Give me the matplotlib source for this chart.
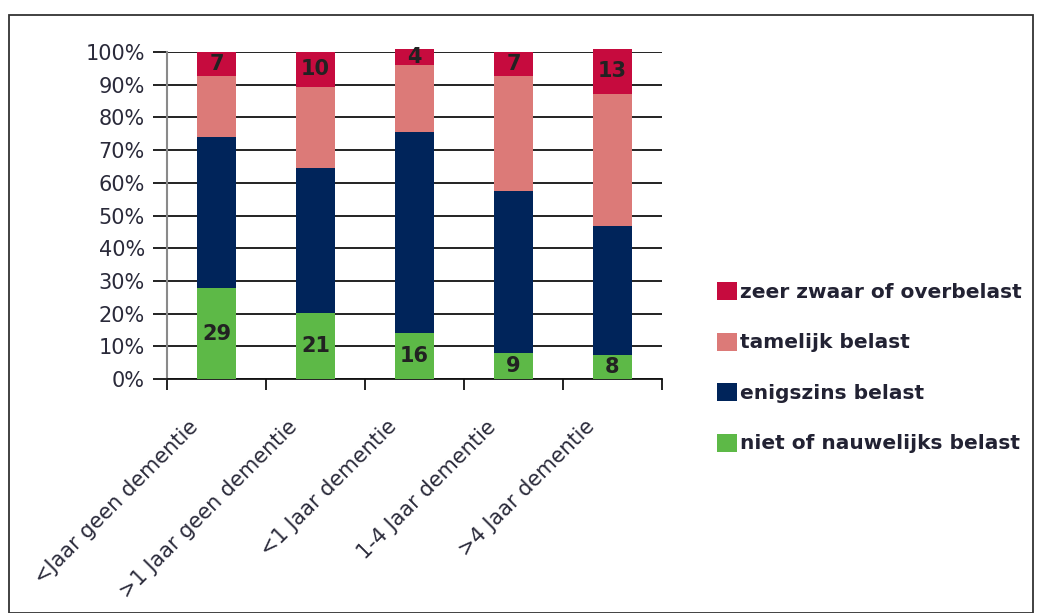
import matplotlib
matplotlib.use("Agg")
import matplotlib.pyplot as plt
import matplotlib.transforms as mtransforms
from matplotlib.patches import Rectangle, Patch
import numpy as np

# ---- data ----
categories = ["<Jaar geen dementie", ">1 Jaar geen dementie", "<1 Jaar dementie",
              "1-4 Jaar dementie", ">4 Jaar dementie"]
niet = [27.7, 20.1, 14.0, 7.9, 7.3]
enigszins = [46.3, 44.5, 61.6, 49.6, 39.4]
tamelijk = [18.6, 24.8, 20.4, 35.1, 40.5]
zeer = [7.4, 10.6, 5.0, 7.4, 13.8]
niet_n = [29, 21, 16, 9, 8]
zeer_n = [7, 10, 4, 7, 13]
series_names = ["niet of nauwelijks belast", "enigszins belast",
                "tamelijk belast", "zeer zwaar of overbelast"]
colors = ["#5DB947", "#00245A", "#DC7A78", "#C60B3E"]
yticks = [0, 10, 20, 30, 40, 50, 60, 70, 80, 90, 100]
ytick_labels = [f"{v}%" for v in yticks]

W, H = 1039, 613
fig = plt.figure(figsize=(W / 100, H / 100), dpi=100)
fig.patch.set_facecolor("white")

# outer frame
fig.patches.append(Rectangle((9 / W, 0), (1033 - 9) / W, 1 - 15 / H,
                             transform=fig.transFigure, fill=False,
                             edgecolor="#333333", linewidth=1.3))

ax = fig.add_axes([167 / W, 1 - 379 / H, (662 - 167) / W, (379 - 52) / H])
x = np.arange(len(categories))
bw = 0.4
series = [niet, enigszins, tamelijk, zeer]
bottom = np.zeros(len(categories))
for vals, c, name in zip(series, colors, series_names):
    ax.bar(x, vals, bw, bottom=bottom, color=c, label=name,
           clip_on=False, zorder=3, linewidth=0)
    bottom = bottom + np.array(vals)

# value labels
for i in range(len(categories)):
    ax.text(x[i], niet[i] / 2, str(niet_n[i]), ha="center", va="center",
            fontsize=15, fontweight="bold", color="#222222", zorder=4)
    top_start = niet[i] + enigszins[i] + tamelijk[i]
    ax.text(x[i], top_start + zeer[i] / 2, str(zeer_n[i]), ha="center",
            va="center", fontsize=15, fontweight="bold", color="#222222",
            zorder=4)

ax.set_xlim(-0.5, len(categories) - 0.5)
ax.set_ylim(0, 100)
ax.set_yticks(yticks, ytick_labels)
ax.yaxis.grid(True, color="#111111", linewidth=1.3)
ax.set_axisbelow(True)
ax.tick_params(axis="y", length=10, width=1.3, color="#111111", pad=6,
               labelsize=15, labelcolor="#2a2a3a")

for s in ["top", "right"]:
    ax.spines[s].set_visible(False)
ax.spines["left"].set_color("#8a8a8a")
ax.spines["left"].set_linewidth(1.5)
ax.spines["bottom"].set_color("#111111")
ax.spines["bottom"].set_linewidth(1.3)

ax.set_xticks(x, categories)
ax.set_xticks(np.arange(len(categories) + 1) - 0.5, minor=True)
ax.tick_params(axis="x", which="major", length=0, pad=27, labelsize=15,
               labelcolor="#2a2a3a")
ax.tick_params(axis="x", which="minor", length=8, width=1.3, color="#111111")
offset = mtransforms.ScaledTranslation(-28 / 100, 0, fig.dpi_scale_trans)
for lab in ax.get_xticklabels():
    lab.set_rotation(45)
    lab.set_ha("right")
    lab.set_va("top")
    lab.set_rotation_mode("anchor")
    lab.set_transform(lab.get_transform() + offset)

# legend (reverse order)
handles = [Patch(facecolor=c, edgecolor="none") for c in colors][::-1]
labels = series_names[::-1]
leg = fig.legend(handles, labels, loc="upper left",
                 bbox_to_anchor=(717 / W, 1 - 282 / H), frameon=False,
                 prop={"size": 14.5, "weight": "bold"}, handlelength=1.0,
                 handleheight=1.0, handletextpad=0.15, labelspacing=1.52,
                 borderpad=0, borderaxespad=0)
for t in leg.get_texts():
    t.set_color("#222233")

fig.savefig("out.png", dpi=100)
